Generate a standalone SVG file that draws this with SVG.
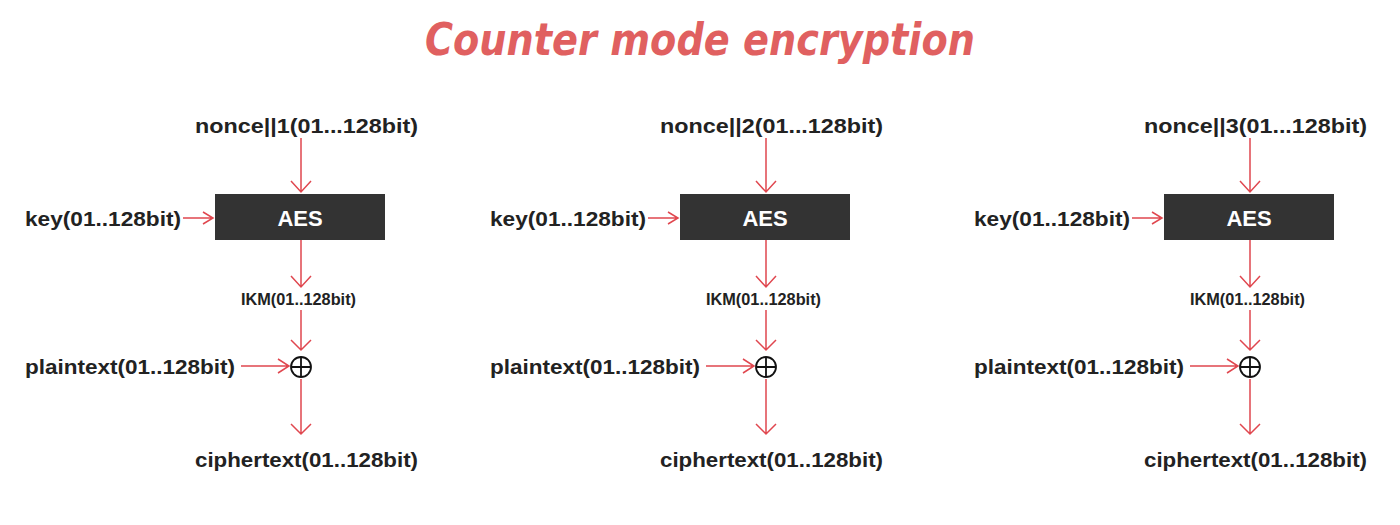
<svg xmlns="http://www.w3.org/2000/svg" width="1400" height="525" viewBox="0 0 1400 525">
<style>
.t{font-family:"Liberation Sans",Arial,sans-serif;font-weight:bold;fill:#222}
.l{stroke:#e0474f;stroke-width:1.5;fill:none}
</style>
<rect width="1400" height="525" fill="#fff"/>
<text x="425" y="55" textLength="550" lengthAdjust="spacingAndGlyphs" font-family="'Comic Sans MS','DejaVu Sans',sans-serif" font-style="italic" font-weight="bold" font-size="44" fill="#e06060">Counter mode encryption</text>
<defs>
<g id="col">
<rect x="215" y="194" width="170" height="46" fill="#333"/>
<text x="300" y="226" text-anchor="middle" font-family="Liberation Sans,Arial,sans-serif" font-weight="bold" font-size="22" fill="#fff">AES</text>
<text class="t" x="25" y="226" font-size="21" textLength="156" lengthAdjust="spacingAndGlyphs">key(01..128bit)</text>
<text class="t" x="241" y="305" font-size="17" textLength="115" lengthAdjust="spacingAndGlyphs">IKM(01..128bit)</text>
<text class="t" x="25" y="374" font-size="21" textLength="210" lengthAdjust="spacingAndGlyphs">plaintext(01..128bit)</text>
<text class="t" x="195" y="467" font-size="21" textLength="223" lengthAdjust="spacingAndGlyphs">ciphertext(01..128bit)</text>
<circle cx="301" cy="367" r="10" fill="none" stroke="#111" stroke-width="1.8"/>
<path d="M291 367H311M301 357V377" stroke="#111" stroke-width="1.8"/>
<g class="l">
<path d="M301 138V192M291 181L301 192L311 181"/>
<path d="M183 218H213M203 212L213 218L203 224"/>
<path d="M301 240V287M291 276L301 287L311 276"/>
<path d="M301 310V350M291 340L301 350L311 340"/>
<path d="M241 366H289M278 359L289 366L278 373"/>
<path d="M301 379V434M291 424L301 434L311 424"/>
</g>
</g>
</defs>
<g id="c1"><use href="#col"/><text class="t" x="195" y="133" font-size="21" textLength="223" lengthAdjust="spacingAndGlyphs">nonce||1(01...128bit)</text></g>
<g id="c2"><use href="#col" x="465"/><text class="t" x="660" y="133" font-size="21" textLength="223" lengthAdjust="spacingAndGlyphs">nonce||2(01...128bit)</text></g>
<g id="c3"><use href="#col" x="949"/><text class="t" x="1144" y="133" font-size="21" textLength="223" lengthAdjust="spacingAndGlyphs">nonce||3(01...128bit)</text></g>
</svg>
